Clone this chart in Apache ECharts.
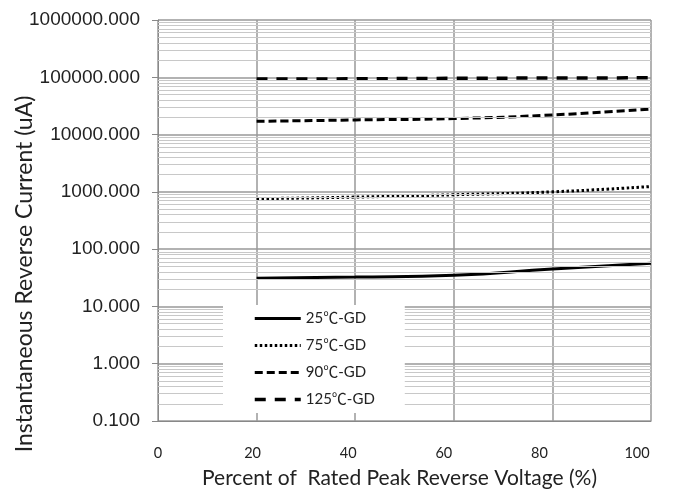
<!DOCTYPE html>
<html>
<head>
<meta charset="utf-8">
<script src="https://cdn.jsdelivr.net/npm/echarts@6/dist/echarts.min.js"></script>
<style>
html,body{margin:0;padding:0;background:#fff;}
#container{width:681px;height:489px;}
</style>
</head>
<body>
<div id="container"></div>
<script>
// percent of rated peak reverse voltage
var xValues = [20, 40, 60, 80, 100];
// reverse current (uA)
var cur25 = [31, 32.5, 35, 45, 57];
var cur75 = [760, 810, 890, 1000, 1240];
var cur90 = [17000, 18000, 19000, 22000, 28000];
var cur125 = [93000, 94000, 96000, 97000, 98000];
var seriesNames = ['25℃-GD', '75℃-GD', '90℃-GD', '125℃-GD'];
var decades = [0.1, 1, 10, 100, 1000, 10000, 100000];
var xTicks = [0, 20, 40, 60, 80, 100];

// line styles, one per series
var lineWidths = [3, 3, 3, 3.5];
var lineTypes = ['solid', [2.5, 2.5], [8, 4], [11, 9]];

function pairs(ys){
	var out = [];
	for(var i = 0; i < xValues.length; i++){
		out.push([xValues[i], ys[i]]);
	}
	return out;
}

//对数坐标的次网格线
var minorLines = [];
for(var d = 0; d < decades.length; d++){
	for(var m = 2; m <= 9; m++){
		minorLines.push({yAxis: decades[d] * m});
	}
}

var fontLato = 'Lato, "Noto Sans CJK SC", sans-serif';

//x轴标签稍微向左偏移
var xLabelShift = [0, 4, 7, 10, 13, 14];
var xRich = {};
for(var k = 0; k < xTicks.length; k++){
	xRich['p' + k] = {fontFamily: fontLato, fontSize: 14.5, color: '#222', padding: [0, xLabelShift[k] * 2, 0, 0]};
}

var allCur = [cur25, cur75, cur90, cur125];
var legendData = [];
var lineSeries = [];
for(var s = 0; s < seriesNames.length; s++){
	legendData.push({
		name: seriesNames[s],
		lineStyle: {color: '#000', width: lineWidths[s], type: lineTypes[s]}
	});
	lineSeries.push({
		name: seriesNames[s], type: 'line', data: pairs(allCur[s]), smooth: true,
		symbol: 'none', z: 3,
		lineStyle: {color: '#000', width: lineWidths[s], type: lineTypes[s]},
		itemStyle: {color: '#000'}
	});
}

var option = {
	animation: false,
	backgroundColor: '#fff',
	grid: {left: 158, right: 30, top: 20, bottom: 68, outerBoundsMode: 'none'},
	graphic: [{
		type: 'text',
		x: 25,
		y: 274,
		rotation: Math.PI / 2,
		style: {
			text: 'Instantaneous Reverse Current (uA)',
			fontFamily: fontLato,
			fontSize: 23,
			fill: '#222',
			align: 'center',
			verticalAlign: 'middle'
		}
	}],
	legend: {
		data: legendData,
		orient: 'vertical',
		left: 223,
		top: 305,
		z: 10,
		backgroundColor: '#fff',
		padding: [6, 30, 6, 30],
		itemWidth: 46,
		itemHeight: 14,
		itemGap: 12,
		itemStyle: {opacity: 0},
		textStyle: {fontFamily: fontLato, fontSize: 15, color: '#222'}
	},
	xAxis: {
		type: 'value',
		min: 0,
		max: 100,
		interval: 20,
		name: 'Percent of  Rated Peak Reverse Voltage (%)',
		nameLocation: 'middle',
		nameGap: 47,
		nameTextStyle: {fontFamily: fontLato, fontSize: 21, color: '#222', padding: [0, 10, 0, 0]},
		axisLine: {lineStyle: {color: '#888', width: 1}},
		axisTick: {show: false},
		axisLabel: {
			margin: 25,
			rich: xRich,
			formatter: function(v){
				var idx = xTicks.indexOf(v);
				return '{p' + (idx < 0 ? 0 : idx) + '|' + v + '}';
			}
		},
		splitLine: {show: true, lineStyle: {color: '#999', width: 1.5}}
	},
	yAxis: {
		type: 'log',
		logBase: 10,
		min: 0.1,
		max: 1000000,
		axisLine: {show: true, lineStyle: {color: '#888', width: 1}},
		axisTick: {show: true, length: 6, lineStyle: {color: '#888'}},
		axisLabel: {
			fontFamily: '"Liberation Sans", Arial, sans-serif',
			fontSize: 19,
			color: '#222',
			margin: 18,
			formatter: function(v){ return Number(v).toFixed(3); }
		},
		splitLine: {show: true, lineStyle: {color: '#999', width: 1.5}}
	},
	series: [
		{
			name: 'minor',
			type: 'line',
			data: [],
			silent: true,
			z: 1,
			markLine: {
				silent: true,
				symbol: ['none', 'none'],
				label: {show: false},
				lineStyle: {color: '#c8c8c8', width: 1, type: 'solid'},
				data: minorLines
			}
		}
	].concat(lineSeries)
};

var myChart = echarts.init(document.getElementById('container'));
myChart.setOption(option, true);
</script>
</body>
</html>
